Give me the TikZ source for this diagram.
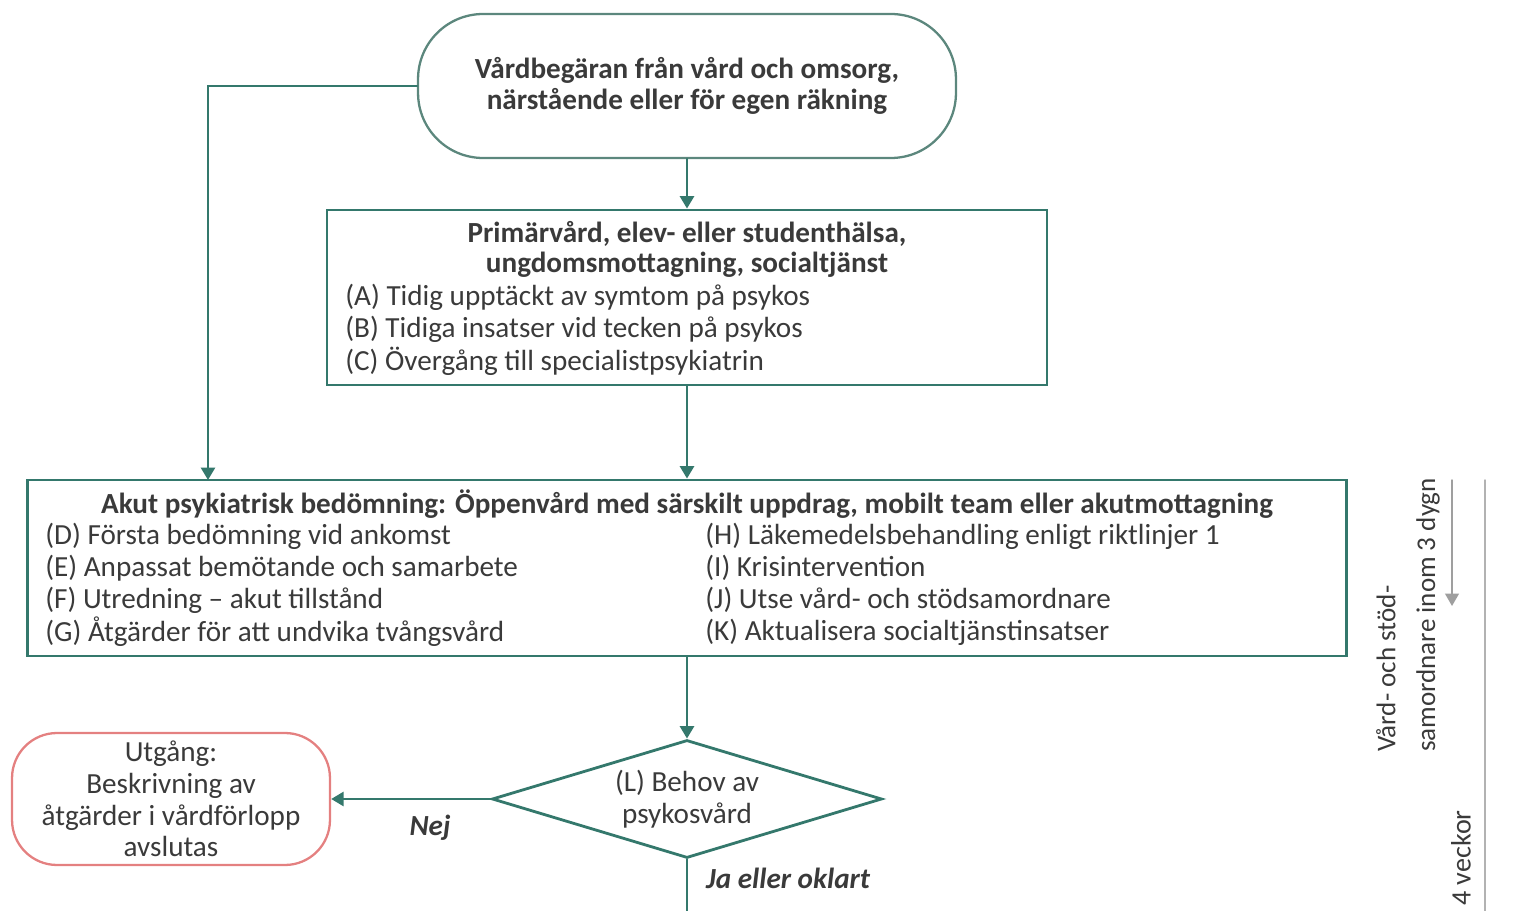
\documentclass[tikz,border=0pt]{standalone}
\usepackage{fontspec}
\setmainfont{Carlito}
\usepackage{tikz}
\usetikzlibrary{arrows.meta,shapes.geometric}
\usepackage{xcolor}
\definecolor{flowteal}{RGB}{52,120,108}
\definecolor{starteal}{RGB}{92,135,125}
\definecolor{exitred}{RGB}{228,128,128}
\definecolor{txtgray}{RGB}{58,58,58}

\begin{document}
\begin{tikzpicture}[x=0.02cm,y=-0.02cm,>={Triangle[length=2.5mm,width=2.8mm]},
  font=\fontsize{16.6}{18.1}\selectfont,line cap=round,text=txtgray,
  flow/.style={->,draw=flowteal,line width=1.6pt},
  box/.style={draw=flowteal,line width=1.6pt,rectangle,inner sep=0pt},
  item/.style={anchor=west,inner sep=0pt},
  head/.style={inner sep=0pt,font=\fontsize{16.6}{18.1}\selectfont\bfseries}]
\useasboundingbox (0,0) rectangle (1524,911);
% start and first box
\node[draw=starteal,line width=1.3pt,rounded corners=1.3cm,minimum width=10.76cm,minimum height=2.88cm,
  align=center,font=\fontsize{16.6}{17.6}\selectfont\bfseries] (start) at (687,86)
  {Vårdbegäran från vård och omsorg,\\närstående eller för egen räkning};
\node[box,minimum width=14.4cm,minimum height=3.5cm] (prim) at (687,297.5) {};
\node[head] (primA) at (687,234) {Primärvård, elev- eller studenthälsa,};
\node[head] (primB) at (687,265) {ungdomsmottagning, socialtjänst};
\node[item] (itA) at (345,297) {(A) Tidig upptäckt av symtom på psykos};
\node[item] (itB) at (345,329) {(B) Tidiga insatser vid tecken på psykos};
\node[item] (itC) at (345,361) {(C) Övergång till specialistpsykiatrin};
% acute assessment
\node[box,minimum width=26.4cm,minimum height=3.52cm] (akut) at (687,568) {};
\node[head] (akutT) at (687,504) {Akut psykiatrisk bedömning: Öppenvård med särskilt uppdrag, mobilt team eller akutmottagning};
\node[item] (itD) at (45,536) {(D) Första bedömning vid ankomst};
\node[item] (itE) at (45,568) {(E) Anpassat bemötande och samarbete};
\node[item] (itF) at (45,600) {(F) Utredning -- akut tillstånd};
\node[item] (itG) at (45,632) {(G) Åtgärder för att undvika tvångsvård};
\node[item] (itH) at (705,536) {(H) Läkemedelsbehandling enligt riktlinjer 1};
\node[item] (itI) at (705,568) {(I) Krisintervention};
\node[item] (itJ) at (705,600) {(J) Utse vård- och stödsamordnare};
\node[item] (itK) at (705,632) {(K) Aktualisera socialtjänstinsatser};
% decision and exit
\node[diamond,aspect=3.3,draw=flowteal,line width=1.6pt,inner sep=0pt,minimum width=7.8cm,minimum height=2.36cm,
  align=center,font=\fontsize{16.6}{18.1}\selectfont] (beh) at (687,799) {(L) Behov av\\psykosvård};
\node[draw=exitred,line width=1.3pt,rounded corners=0.9cm,minimum width=6.36cm,minimum height=2.64cm,
  align=center,font=\fontsize{16.6}{18.1}\selectfont] (utg) at (171,799)
  {Utgång:\\Beskrivning av\\åtgärder i vårdförlopp\\avslutas};
\coordinate (leftin) at (208,480);
\coordinate (down) at (687,930);
\draw[flow] (start) -- (prim);
\draw[flow] (start.west) -| (leftin);
\draw[flow] (prim) -- (prim.south |- akut.north);
\draw[flow] (akut) -- (beh);
\draw[flow] (beh.west) -- node[pos=0.38,below=5pt,font=\fontsize{16.6}{18}\selectfont\bfseries\itshape]{Nej} (utg.east);
\draw[draw=flowteal,line width=1.6pt] (beh.south) -- (down);
\node[anchor=west,font=\fontsize{16.6}{18}\selectfont\bfseries\itshape] (ja) at (700,878) {Ja eller oklart};
% time line on the right
\node[rotate=90,align=left,font=\fontsize{15.4}{22.7pt}\selectfont] (samord) at (1408,615)
  {Vård- och stöd-\\samordnare inom 3 dygn};
\coordinate (arrtop) at (1452,480);
\coordinate (arrend) at (1452,606);
\draw[->,gray!75,line width=0.8pt] (arrtop) -- (arrend);
\coordinate (linetop) at (1485,480);
\coordinate (linebot) at (1485,930);
\draw[gray!60,line width=0.8pt] (linetop) -- (linebot);
\node[rotate=90,anchor=west,inner sep=0pt,font=\fontsize{16}{18}\selectfont] (veckor) at (1461,906) {4 veckor};
\end{tikzpicture}
\end{document}
